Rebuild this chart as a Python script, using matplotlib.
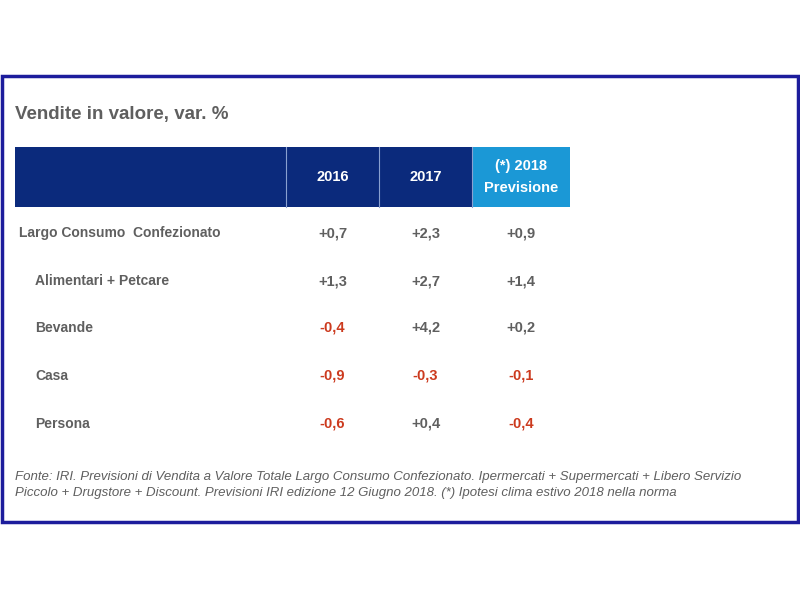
import matplotlib
matplotlib.use("Agg")
import matplotlib.pyplot as plt
from matplotlib.patches import Rectangle

TITLE = "Vendite in valore, var. %"
COLUMNS = ["2016", "2017", "(*) 2018\nPrevisione"]
CATEGORIES = [
    "Largo Consumo  Confezionato",
    "Alimentari + Petcare",
    "Bevande",
    "Casa",
    "Persona",
]
V2016 = [0.7, 1.3, -0.4, -0.9, -0.6]
V2017 = [2.3, 2.7, 4.2, -0.3, 0.4]
V2018 = [0.9, 1.4, 0.2, -0.1, -0.4]
FOOTNOTE = ("Fonte: IRI. Previsioni di Vendita a Valore Totale Largo Consumo Confezionato. "
            "Ipermercati + Supermercati + Libero Servizio\n"
            "Piccolo + Drugstore + Discount. Previsioni IRI edizione 12 Giugno 2018. "
            "(*) Ipotesi clima estivo 2018 nella norma")

NAVY = "#0b2a7c"
LIGHT = "#1b98d6"
GREY = "#5f5f5f"
RED = "#cc3a1e"

plt.rcParams["font.family"] = ["Liberation Sans", "DejaVu Sans"]

fig = plt.figure(figsize=(8, 6), dpi=100)
ax = fig.add_axes([0, 0, 1, 1])
ax.set_xlim(0, 800)
ax.set_ylim(600, 0)
ax.axis("off")

# outer frame
ax.add_patch(Rectangle((2, 76), 796, 446, fill=False, edgecolor="#1c1c9c", lw=2.5))

ax.text(15, 114, TITLE, fontsize=13.5, color=GREY, fontweight="bold", va="center", ha="left")

# header
col_edges = [286, 379, 472, 570]
ax.add_patch(Rectangle((15, 147), col_edges[2] - 15, 60, color=NAVY, lw=0))
ax.add_patch(Rectangle((col_edges[2], 147), col_edges[3] - col_edges[2], 60, color=LIGHT, lw=0))
for xe in col_edges[:3]:
    ax.plot([xe, xe], [147, 207], color="#8aa0d0", lw=0.8)
centers = [(col_edges[i] + col_edges[i + 1]) / 2 for i in range(3)]
for cx, name in zip(centers, COLUMNS):
    ax.text(cx, 177, name, color="white", fontsize=10.5, fontweight="bold",
            ha="center", va="center", linespacing=1.7)

# rows (shared baseline for labels and values)
row_y = [232, 280, 327, 375, 423]
series = [V2016, V2017, V2018]
for i, (cat, y) in enumerate(zip(CATEGORIES, row_y)):
    x0 = 19 if i == 0 else 35
    ax.text(x0, y + 5, cat, color=GREY, fontsize=10, fontweight="bold",
            ha="left", va="baseline")
    for cx, vals in zip(centers, series):
        v = vals[i]
        s = f"{v:+.1f}".replace(".", ",")
        ax.text(cx, y + 5, s, color=RED if v < 0 else GREY, fontsize=10.5,
                fontweight="bold", ha="center", va="baseline")

ax.text(15, 485, FOOTNOTE, color=GREY, fontsize=9.5, style="italic",
        ha="left", va="center", linespacing=1.45)

fig.savefig("out.png", dpi=100)
